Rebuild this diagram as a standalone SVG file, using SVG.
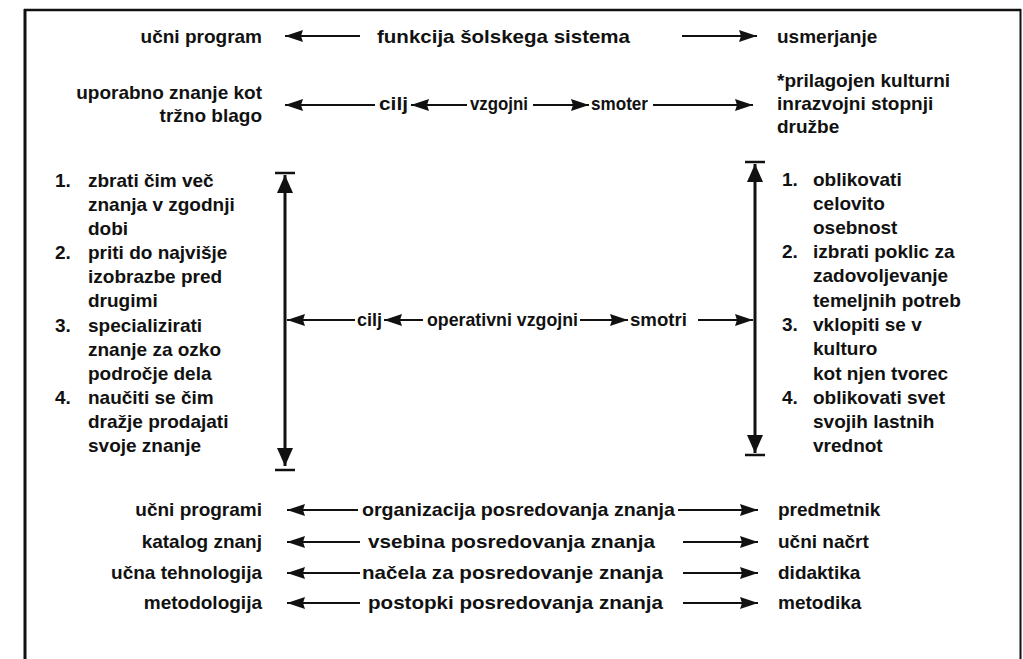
<svg xmlns="http://www.w3.org/2000/svg" width="1023" height="659" viewBox="0 0 1023 659">
<style>
text{font-family:"Liberation Sans",Arial,Helvetica,sans-serif;font-size:19px;font-weight:bold;fill:#111;}
.e{text-anchor:end;}
.c line{stroke:#111;stroke-width:2;}
.c .v{stroke-width:3;}
.c .bar{stroke-width:2.5;}
.frame{fill:none;stroke:#111;}
</style>
<defs>
<marker id="ah" viewBox="0 0 18 12" refX="18" refY="6" markerWidth="18" markerHeight="12" orient="auto-start-reverse" markerUnits="userSpaceOnUse"><path d="M0,0 L18,6 L0,12 L2,6 z" fill="#111"/></marker>
<marker id="vh" viewBox="0 0 18 16" refX="18" refY="8" markerWidth="18" markerHeight="16" orient="auto-start-reverse" markerUnits="userSpaceOnUse"><path d="M0,0 L18,8 L0,16 z" fill="#111"/></marker>
</defs>
<rect width="1023" height="659" fill="#fff"/>
<g id="frame">
<line class="frame" x1="25" y1="9" x2="25" y2="659" stroke-width="3"/>
<line class="frame" x1="24" y1="10" x2="1021" y2="10" stroke-width="2.5"/>
<line class="frame" x1="1020.5" y1="9" x2="1020.5" y2="659" stroke-width="2"/>
</g>
<g id="connectors" class="c">
<line x1="360" y1="36" x2="285" y2="36" marker-end="url(#ah)"/>
<line x1="682" y1="36" x2="757" y2="36" marker-end="url(#ah)"/>
<line x1="375" y1="105" x2="285" y2="105" marker-end="url(#ah)"/>
<line x1="467" y1="105" x2="411" y2="105" marker-end="url(#ah)"/>
<line x1="533" y1="105" x2="589" y2="105" marker-end="url(#ah)"/>
<line x1="653" y1="105" x2="753" y2="105" marker-end="url(#ah)"/>
<line class="v" x1="285" y1="175" x2="285" y2="466" marker-start="url(#vh)" marker-end="url(#vh)"/>
<line class="bar" x1="275" y1="173" x2="295" y2="173"/>
<line class="bar" x1="275" y1="470" x2="295" y2="470"/>
<line class="v" x1="755" y1="164" x2="755" y2="453" marker-start="url(#vh)" marker-end="url(#vh)"/>
<line class="bar" x1="745" y1="162" x2="765" y2="162"/>
<line class="bar" x1="745" y1="455" x2="765" y2="455"/>
<line x1="355" y1="320" x2="287" y2="320" marker-end="url(#ah)"/>
<line x1="423" y1="320" x2="384" y2="320" marker-end="url(#ah)"/>
<line x1="580" y1="320" x2="628" y2="320" marker-end="url(#ah)"/>
<line x1="698" y1="320" x2="753" y2="320" marker-end="url(#ah)"/>
<line x1="358" y1="510" x2="287" y2="510" marker-end="url(#ah)"/>
<line x1="678" y1="510" x2="758" y2="510" marker-end="url(#ah)"/>
<line x1="360" y1="542" x2="287" y2="542" marker-end="url(#ah)"/>
<line x1="683" y1="542" x2="758" y2="542" marker-end="url(#ah)"/>
<line x1="360" y1="573" x2="287" y2="573" marker-end="url(#ah)"/>
<line x1="683" y1="573" x2="758" y2="573" marker-end="url(#ah)"/>
<line x1="360" y1="603" x2="287" y2="603" marker-end="url(#ah)"/>
<line x1="683" y1="603" x2="758" y2="603" marker-end="url(#ah)"/>
</g>
<g id="n-ucni-program"><text class="e" x="262" y="43">učni program</text></g>
<g id="n-funkcija"><text x="377" y="43" textLength="253" lengthAdjust="spacingAndGlyphs">funkcija šolskega sistema</text></g>
<g id="n-usmerjanje"><text x="777" y="43">usmerjanje</text></g>
<g id="n-uporabno"><text class="e" x="262" y="99">uporabno znanje kot</text><text class="e" x="262" y="122">tržno blago</text></g>
<g id="n-cilj1"><text x="379" y="110" textLength="29" lengthAdjust="spacingAndGlyphs">cilj</text></g>
<g id="n-vzgojni"><text x="470" y="110" textLength="58" lengthAdjust="spacingAndGlyphs">vzgojni</text></g>
<g id="n-smoter"><text x="591" y="110" textLength="57" lengthAdjust="spacingAndGlyphs">smoter</text></g>
<g id="n-prilagojen"><text x="777" y="87">*prilagojen kulturni</text><text x="777" y="110">inrazvojni stopnji</text><text x="777" y="133">družbe</text></g>
<g id="n-left-list">
<text x="55" y="187">1.</text><text x="88" y="187">zbrati čim več</text>
<text x="88" y="211">znanja v zgodnji</text>
<text x="88" y="235">dobi</text>
<text x="55" y="259">2.</text><text x="88" y="259">priti do najvišje</text>
<text x="88" y="283">izobrazbe pred</text>
<text x="88" y="307">drugimi</text>
<text x="55" y="332">3.</text><text x="88" y="332">specializirati</text>
<text x="88" y="356">znanje za ozko</text>
<text x="88" y="380">področje dela</text>
<text x="55" y="404">4.</text><text x="88" y="404">naučiti se čim</text>
<text x="88" y="428">dražje prodajati</text>
<text x="88" y="452">svoje znanje</text>
</g>
<g id="n-cilj2"><text x="357" y="326" textLength="25" lengthAdjust="spacingAndGlyphs">cilj</text></g>
<g id="n-operativni"><text x="427" y="326" textLength="151" lengthAdjust="spacingAndGlyphs">operativni vzgojni</text></g>
<g id="n-smotri"><text x="630" y="326" textLength="57" lengthAdjust="spacingAndGlyphs">smotri</text></g>
<g id="n-right-list">
<text x="782" y="186">1.</text><text x="813" y="186">oblikovati</text>
<text x="813" y="210">celovito</text>
<text x="813" y="234">osebnost</text>
<text x="782" y="258">2.</text><text x="813" y="258">izbrati poklic za</text>
<text x="813" y="282">zadovoljevanje</text>
<text x="813" y="307">temeljnih potreb</text>
<text x="782" y="331">3.</text><text x="813" y="331">vklopiti se v</text>
<text x="813" y="355">kulturo</text>
<text x="813" y="380">kot njen tvorec</text>
<text x="782" y="404">4.</text><text x="813" y="404">oblikovati svet</text>
<text x="813" y="428">svojih lastnih</text>
<text x="813" y="452">vrednot</text>
</g>
<g id="n-ucni-programi"><text class="e" x="262" y="516">učni programi</text></g>
<g id="n-organizacija"><text x="362" y="516" textLength="313" lengthAdjust="spacingAndGlyphs">organizacija posredovanja znanja</text></g>
<g id="n-predmetnik"><text x="778" y="516">predmetnik</text></g>
<g id="n-katalog"><text class="e" x="262" y="548">katalog znanj</text></g>
<g id="n-vsebina"><text x="368" y="548" textLength="287" lengthAdjust="spacingAndGlyphs">vsebina posredovanja znanja</text></g>
<g id="n-ucni-nacrt"><text x="778" y="548">učni načrt</text></g>
<g id="n-ucna-tehnologija"><text class="e" x="262" y="579">učna tehnologija</text></g>
<g id="n-nacela"><text x="362" y="579" textLength="301" lengthAdjust="spacingAndGlyphs">načela za posredovanje znanja</text></g>
<g id="n-didaktika"><text x="778" y="579">didaktika</text></g>
<g id="n-metodologija"><text class="e" x="262" y="609">metodologija</text></g>
<g id="n-postopki"><text x="368" y="609" textLength="295" lengthAdjust="spacingAndGlyphs">postopki posredovanja znanja</text></g>
<g id="n-metodika"><text x="778" y="609">metodika</text></g>
</svg>
